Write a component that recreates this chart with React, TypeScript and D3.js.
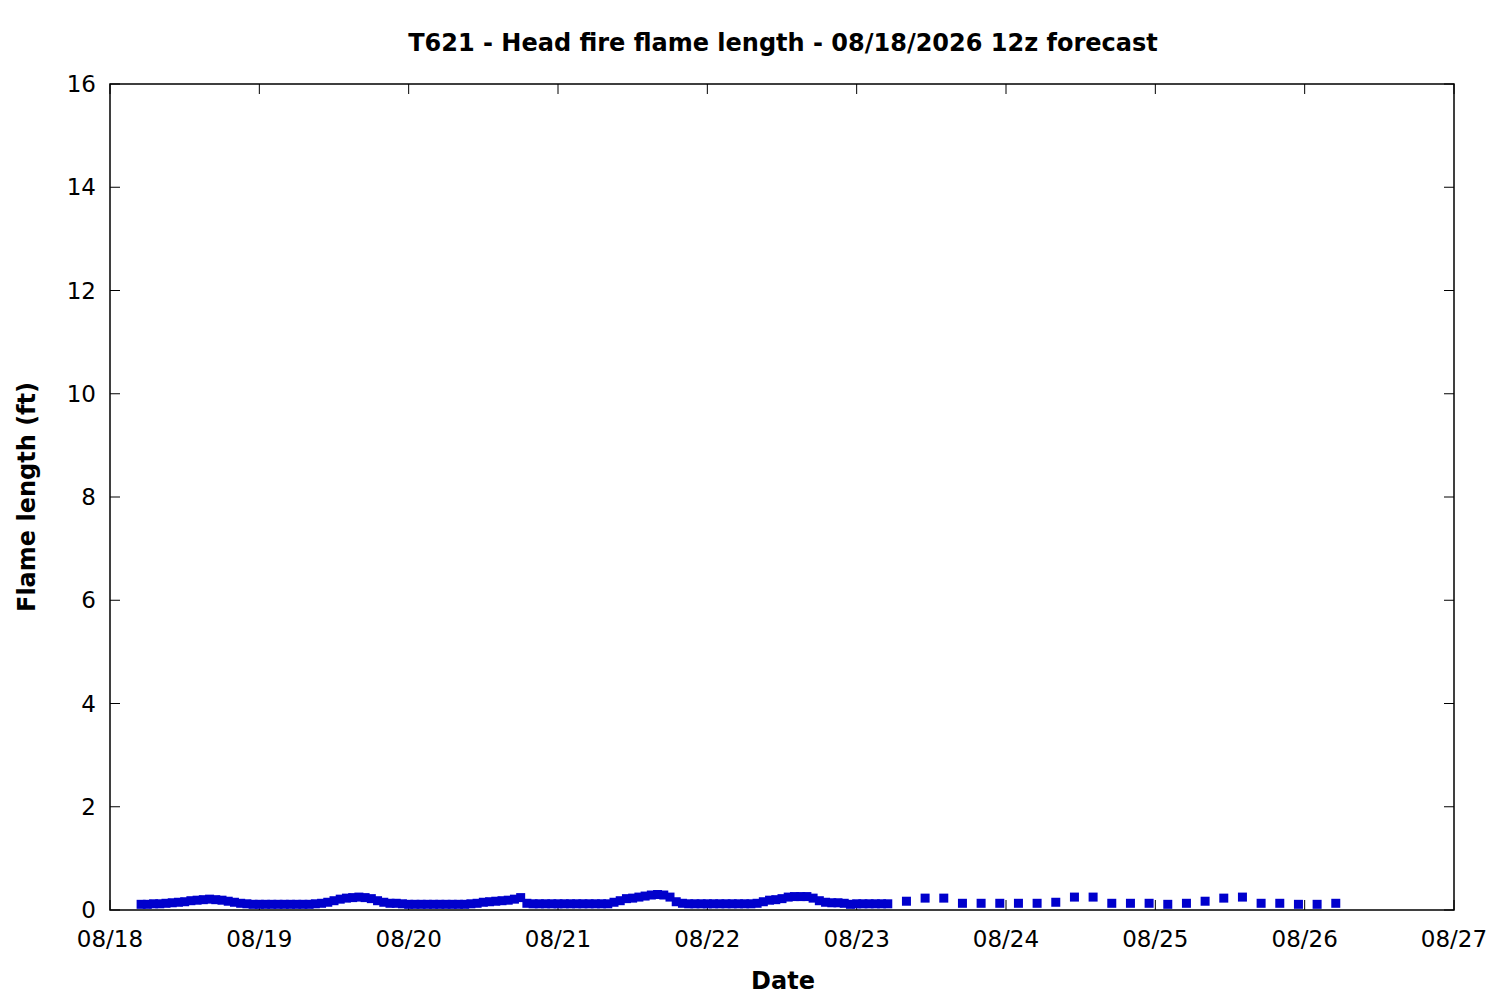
import { scaleLinear, scaleTime, timeDay, timeHour } from 'd3'

const WIDTH = 1500
const HEIGHT = 1000
const MARGIN = { top: 84, right: 46, bottom: 90, left: 110 }
const FONT = '"DejaVu Sans", sans-serif'
const BLUE = '#0000cc'

const TITLE = 'T621 - Head fire flame length - 08/18/2026 12z forecast'
const X_LABEL = 'Date'
const Y_LABEL = 'Flame length (ft)'

const DATE_DOMAIN = [new Date(2026, 7, 18), new Date(2026, 7, 27)]
const Y_TICKS = [0, 2, 4, 6, 8, 10, 12, 14, 16]

// hourly forecast, first value at 08/18 05:00
const HOURLY_START = new Date(2026, 7, 18, 5)
const flame0818 = [0.11, 0.11, 0.12, 0.12, 0.13, 0.14, 0.15, 0.16, 0.18, 0.19, 0.2, 0.21, 0.2, 0.19, 0.17, 0.15, 0.13, 0.12, 0.11]
const flame0819 = [0.11, 0.11, 0.11, 0.11, 0.11, 0.11, 0.11, 0.11, 0.11, 0.12, 0.13, 0.15, 0.18, 0.21, 0.23, 0.24, 0.25, 0.24, 0.22, 0.18, 0.15, 0.13, 0.13, 0.12]
const flame0820 = [0.11, 0.11, 0.11, 0.11, 0.11, 0.11, 0.11, 0.11, 0.11, 0.11, 0.12, 0.13, 0.15, 0.16, 0.17, 0.18, 0.19, 0.21, 0.24, 0.13, 0.12, 0.12, 0.12, 0.12]
const flame0821 = [0.12, 0.12, 0.12, 0.12, 0.12, 0.12, 0.12, 0.12, 0.12, 0.15, 0.18, 0.22, 0.23, 0.25, 0.27, 0.29, 0.3, 0.29, 0.25, 0.16, 0.13, 0.12, 0.12, 0.12]
const flame0822 = [0.12, 0.12, 0.12, 0.12, 0.12, 0.12, 0.12, 0.12, 0.13, 0.16, 0.19, 0.2, 0.22, 0.25, 0.26, 0.26, 0.26, 0.23, 0.18, 0.15, 0.14, 0.14, 0.13, 0.11]
const flame0823 = [0.12, 0.12, 0.12, 0.12, 0.12, 0.12]

// 3-hourly extended forecast, first value at 08/23 08:00
const THREE_HOURLY_START = new Date(2026, 7, 23, 8)
const flameExtended = [
  0.17, 0.23, 0.23, 0.13, 0.13, 0.13, 0.13, 0.13, 0.15, 0.25, 0.25, 0.13,
  0.13, 0.13, 0.11, 0.13, 0.17, 0.23, 0.25, 0.13, 0.13, 0.11, 0.11, 0.13,
]

type Point = { date: Date; value: number }

const hourly: Point[] = [...flame0818, ...flame0819, ...flame0820, ...flame0821, ...flame0822, ...flame0823].map(
  (value, i) => ({ date: timeHour.offset(HOURLY_START, i), value }),
)
const extended: Point[] = flameExtended.map((value, i) => ({
  date: timeHour.offset(THREE_HOURLY_START, i * 3),
  value,
}))

const pad = (n: number) => String(n).padStart(2, '0')
const fmtDay = (d: Date) => `${pad(d.getMonth() + 1)}/${pad(d.getDate())}`

export default function App() {
  const x0 = MARGIN.left
  const x1 = WIDTH - MARGIN.right
  const y0 = HEIGHT - MARGIN.bottom
  const y1 = MARGIN.top

  const x = scaleTime().domain(DATE_DOMAIN).range([x0, x1])
  const y = scaleLinear().domain([0, 16]).range([y0, y1])
  const xTicks = timeDay.range(DATE_DOMAIN[0], timeDay.offset(DATE_DOMAIN[1], 1))
  const tickLen = 10
  const size = 9

  return (
    <svg width={WIDTH} height={HEIGHT} viewBox={`0 0 ${WIDTH} ${HEIGHT}`} style={{ display: 'block', margin: -8, background: '#fff' }}>
      <rect x={0} y={0} width={WIDTH} height={HEIGHT} fill="#fff" />
      <text x={783} y={51} textAnchor="middle" fontFamily={FONT} fontWeight="bold" fontSize={24}>
        {TITLE}
      </text>

      {/* ticks, mirrored on all sides */}
      <g stroke="#000" strokeWidth={1}>
        {xTicks.map((d) => (
          <g key={`xt${+d}`}>
            <line x1={x(d)} x2={x(d)} y1={y0} y2={y0 - tickLen} />
            <line x1={x(d)} x2={x(d)} y1={y1} y2={y1 + tickLen} />
          </g>
        ))}
        {Y_TICKS.map((v) => (
          <g key={`yt${v}`}>
            <line x1={x0} x2={x0 + tickLen} y1={y(v)} y2={y(v)} />
            <line x1={x1} x2={x1 - tickLen} y1={y(v)} y2={y(v)} />
          </g>
        ))}
      </g>

      <g fontFamily={FONT} fontSize={23} fill="#000">
        {xTicks.map((d) => (
          <text key={`xl${+d}`} x={x(d)} y={y0 + 37} textAnchor="middle">
            {fmtDay(d)}
          </text>
        ))}
        {Y_TICKS.map((v) => (
          <text key={`yl${v}`} x={96} y={y(v) + 8} textAnchor="end">
            {v}
          </text>
        ))}
      </g>

      <g fill={BLUE}>
        {hourly.map((p) => (
          <rect key={`h${+p.date}`} x={x(p.date) - size / 2} y={y(p.value) - size / 2} width={size} height={size} />
        ))}
        {extended.map((p) => (
          <rect key={`e${+p.date}`} x={x(p.date) - size / 2} y={y(p.value) - size / 2} width={size} height={size} />
        ))}
      </g>

      <rect x={x0} y={y1} width={x1 - x0} height={y0 - y1} fill="none" stroke="#000" strokeWidth={1.5} />

      <text x={783} y={989} textAnchor="middle" fontFamily={FONT} fontWeight="bold" fontSize={24}>
        {X_LABEL}
      </text>
      <text
        transform={`translate(35, ${(y0 + y1) / 2}) rotate(-90)`}
        textAnchor="middle"
        fontFamily={FONT}
        fontWeight="bold"
        fontSize={24}
      >
        {Y_LABEL}
      </text>
    </svg>
  )
}
